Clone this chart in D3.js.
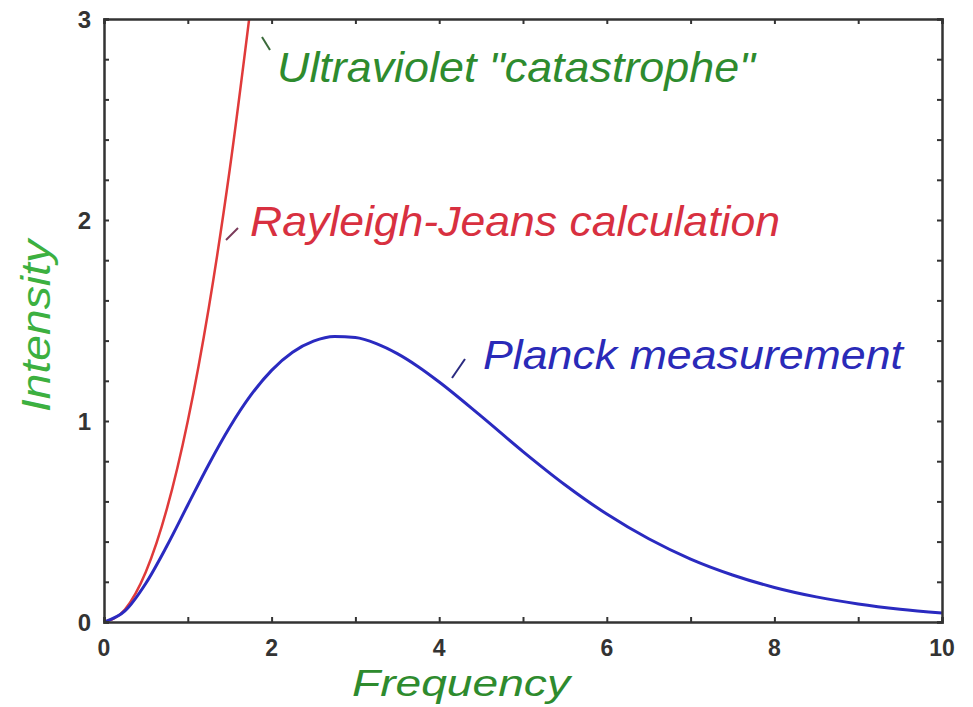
<!DOCTYPE html>
<html><head><meta charset="utf-8">
<script src="https://cdn.jsdelivr.net/npm/d3@7"></script>
<style>html,body{margin:0;padding:0;background:#fff;}svg{display:block;}</style>
</head><body>
<svg id="chart" width="973" height="707"></svg>
<script>
// Data
const planckX = [0,0.25,0.5,0.75,1,1.25,1.5,1.75,2,2.25,2.5,2.75,3,3.25,3.5,3.75,4,4.5,5,5.5,6,6.5,7,7.5,8,8.5,9,9.5,10];
const planckY = [0,0.055,0.193,0.378,0.582,0.784,0.969,1.127,1.252,1.342,1.397,1.420,1.415,1.385,1.335,1.270,1.194,1.024,0.848,0.683,0.537,0.414,0.313,0.234,0.172,0.125,0.090,0.064,0.045];
const rjX = [0,0.25,0.5,0.75,1,1.25,1.5,1.75];
const rjY = [0,0.0625,0.25,0.5625,1,1.5625,2.25,3.06];
const xTicks = [0,2,4,6,8,10];
const yTicks = [0,1,2,3];
const xMinor = [0,1,2,3,4,5,6,7,8,9,10];
const yMinor = [0,0.2,0.4,0.6,0.8,1,1.2,1.4,1.6,1.8,2,2.2,2.4,2.6,2.8,3];

const svg = d3.select("#chart");
const L=104, R=942, T=19, B=622;
const x = d3.scaleLinear().domain([0,10]).range([L,R]);
const y = d3.scaleLinear().domain([0,3]).range([B,T]);

svg.append("defs").append("clipPath").attr("id","clip")
  .append("rect").attr("x",L).attr("y",T).attr("width",R-L).attr("height",B-T);

const line = d3.line().x(d=>x(d[0])).y(d=>y(d[1])).curve(d3.curveMonotoneX);
const planck = planckX.map((v,i)=>[v,planckY[i]]);
const rj = rjX.map((v,i)=>[v,rjY[i]]);

svg.append("path").datum(rj).attr("d",line).attr("fill","none")
  .attr("stroke","#e03a3a").attr("stroke-width",2.5).attr("clip-path","url(#clip)");
svg.append("path").datum(planck).attr("d",line).attr("fill","none")
  .attr("stroke","#2a2ac0").attr("stroke-width",3).attr("clip-path","url(#clip)");

// axes with inward ticks
const frameColor="#333";
const gB = svg.append("g").attr("transform",`translate(0,${B})`)
  .call(d3.axisBottom(x).tickValues(xMinor).tickSize(-5).tickFormat(""));
const gT = svg.append("g").attr("transform",`translate(0,${T})`)
  .call(d3.axisTop(x).tickValues(xMinor).tickSize(-5).tickFormat(""));
const gL = svg.append("g").attr("transform",`translate(${L},0)`)
  .call(d3.axisLeft(y).tickValues(yMinor).tickSize(-5).tickFormat(""));
const gR = svg.append("g").attr("transform",`translate(${R},0)`)
  .call(d3.axisRight(y).tickValues(yMinor).tickSize(-5).tickFormat(""));
[gB,gT,gL,gR].forEach(g=>{
  g.select(".domain").attr("stroke",frameColor).attr("stroke-width",2.5);
  g.selectAll(".tick line").attr("stroke",frameColor).attr("stroke-width",2);
});

const font="Liberation Sans, Arial, sans-serif";
// tick labels
svg.append("g").selectAll("text").data(xTicks).join("text")
  .attr("x",d=>x(d)).attr("y",656).attr("text-anchor","middle")
  .attr("font-family",font).attr("font-weight","bold")
  .attr("font-size",23).attr("fill","#333").text(d=>d);
svg.append("g").selectAll("text").data(yTicks).join("text")
  .attr("x",91).attr("y",d=>y(d)+8.5).attr("text-anchor","end")
  .attr("font-family",font).attr("font-weight","bold")
  .attr("font-size",24).attr("fill","#333").text(d=>d);

function label(txt,xx,yy,size,len,color,transform){
  const t = svg.append("text").attr("font-family",font).attr("font-style","italic")
    .attr("font-size",size).attr("fill",color)
    .attr("textLength",len).attr("lengthAdjust","spacingAndGlyphs").text(txt);
  if(transform){ t.attr("transform",transform).attr("x",0).attr("y",0); }
  else { t.attr("x",xx).attr("y",yy); }
  return t;
}
// axis titles
label("Frequency",352,696,36,218,"#2e8b2e");
label("Intensity",0,0,40,172,"#3cb040","translate(50,412) rotate(-90)");

// annotations
label('Ultraviolet "catastrophe"',277,82,42,478,"#2e8b2e");
svg.append("line").attr("x1",262).attr("y1",37).attr("x2",270).attr("y2",50)
  .attr("stroke","#3a6a3a").attr("stroke-width",2);
label("Rayleigh-Jeans calculation",250,236,42,530,"#d83040");
svg.append("line").attr("x1",226).attr("y1",240).attr("x2",238).attr("y2",228)
  .attr("stroke","#7a3a5a").attr("stroke-width",2);
label("Planck measurement",483,369,40,420,"#2a2ab8");
svg.append("line").attr("x1",452).attr("y1",378).attr("x2",465).attr("y2",359)
  .attr("stroke","#2a2a80").attr("stroke-width",2);
</script>
</body></html>
